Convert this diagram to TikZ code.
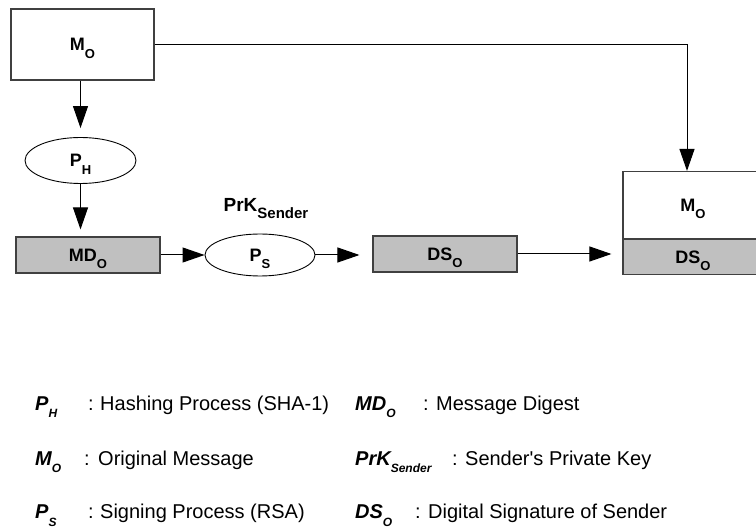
\documentclass[tikz,border=0pt]{standalone}
\usepackage{fontspec}
\setmainfont{Liberation Sans}
\usetikzlibrary{arrows.meta}
\usetikzlibrary{shapes.geometric}
\definecolor{boxgray}{HTML}{C0C0C0}
\definecolor{edgegray}{HTML}{404040}
% labels in the boxes and the legend symbols
\newcommand{\dsym}[2]{{\bfseries #1\raisebox{-0.4em}{\fontsize{13}{13}\selectfont #2}}}
\newcommand{\lsym}[2]{{\bfseries\itshape #1\raisebox{-0.35em}{\fontsize{12}{12}\selectfont #2}}}
\tikzset{
  msgbox/.style={draw=edgegray, line width=1.1pt, inner sep=0pt, minimum width=143pt, minimum height=71pt,
    text height=13pt, text depth=0pt, font=\fontsize{18}{18}\selectfont},
  digbox/.style={draw=edgegray, fill=boxgray, line width=1.1pt, inner sep=0pt, minimum width=144pt, minimum height=36pt,
    text height=13pt, text depth=0pt, font=\fontsize{18}{18}\selectfont},
  proc/.style={draw, ellipse, line width=0.9pt, inner sep=0pt, minimum width=111pt, minimum height=46pt,
    text height=13pt, text depth=0pt, font=\fontsize{18}{18}\selectfont},
  flow/.style={-{Triangle[length=22pt,width=15pt]}, line width=1pt},
  legend/.style={anchor=base west, inner sep=0pt, font=\fontsize{20}{20}\selectfont}
}
\begin{document}
\begin{tikzpicture}[x=1pt, y=-1pt]
\useasboundingbox (0,0) rectangle (756,529);

% diagram
\node[msgbox] (mo) at (82.5,44.5) {\dsym{M}{O}};
\node[proc] (ph) at (80.5,160.5) {\dsym{P}{H}};
\node[digbox] (md) at (88,255) {\dsym{MD}{O}};
\node[proc, minimum width=110pt, minimum height=42pt] (ps) at (260,255) {\dsym{P}{S}};
\node[anchor=base, inner sep=0pt, font=\fontsize{19}{19}\selectfont] (prk) at (266,212)
  {\textbf{PrK\raisebox{-0.35em}{\fontsize{15}{15}\selectfont Sender}}};
\node[digbox] (ds) at (445,254) {\dsym{DS}{O}};
\node[msgbox, minimum width=140pt, minimum height=67pt] (rm) at (693,205) {\dsym{M}{O}};
\node[digbox, minimum width=140pt, minimum height=35pt, anchor=north] (rds) at (rm.south) {};
\node[font=\fontsize{18}{18}\selectfont, text height=13pt, text depth=0pt, inner sep=0pt] (rdsl) at (rds.center) {\dsym{DS}{O}};

\draw[flow, shorten >=9pt] (mo.south -| ph.north) -- (ph.north);
\draw[flow, shorten >=7pt] (ph.south) -- (ph.south |- md.north);
\draw[flow] (md.east) -- (ps.west);
\draw[flow, shorten >=13pt] (ps.east) -- (ps.east -| ds.west);
\draw[flow, shorten >=11pt] (ds.east) -- (ds.east -| rds.west);
\draw[flow] (mo.east) -| ([xshift=-6pt]rm.north);

% legend
\node[legend] (kph) at (35,411) {\lsym{P}{H}};
\node[legend] (cph) at (88,411) {:};
\node[legend] (tph) at (100,411) {Hashing Process (SHA-1)};
\node[legend] (kmd) at (355,411) {\lsym{MD}{O}};
\node[legend] (tmd) at (423,411) {: Message Digest};

\node[legend] (kmo) at (35,466) {\lsym{M}{O}};
\node[legend] (cmo) at (84,466) {:};
\node[legend] (tmo) at (98,466) {Original Message};
\node[legend] (kprk) at (355,466) {\lsym{PrK}{Sender}};
\node[legend] (tprk) at (452,466) {: Sender\textquotesingle s Private Key};

\node[legend] (kps) at (35,519) {\lsym{P}{S}};
\node[legend] (cps) at (88,519) {:};
\node[legend] (tps) at (100,519) {Signing Process (RSA)};
\node[legend] (kds) at (355,519) {\lsym{DS}{O}};
\node[legend] (tds) at (415,519) {: Digital Signature of Sender};
\end{tikzpicture}
\end{document}
